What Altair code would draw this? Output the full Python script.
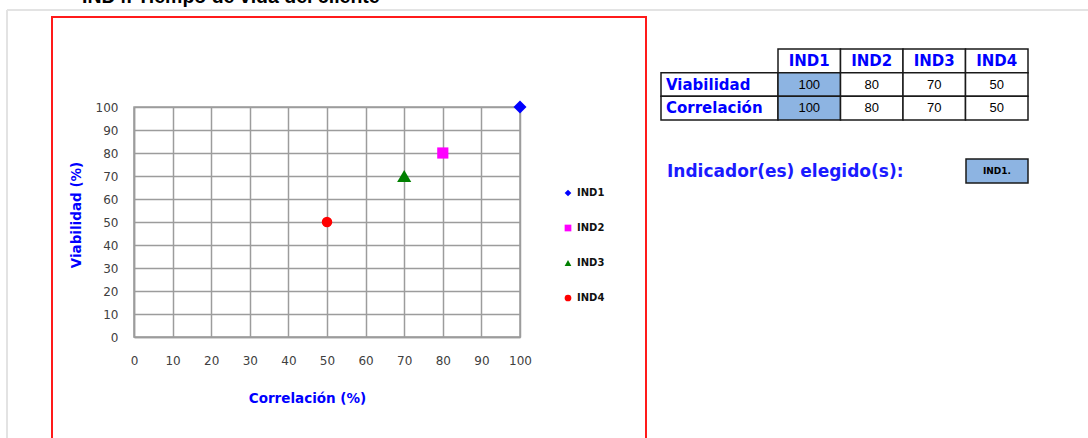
import altair as alt
import pandas as pd

# ---- data -------------------------------------------------------------
indicators = ["IND1", "IND2", "IND3", "IND4"]
viabilidad = [100, 80, 70, 50]
correlacion = [100, 80, 70, 50]
marker_colors = ["#0000ff", "#ff00ff", "#008000", "#ff0000"]
marker_shapes = ["diamond", "square", "triangle-up", "circle"]
marker_sizes = [170, 125, 200, 110]
row_labels = ["Viabilidad", "Correlación"]
selected = "IND1."
axis_ticks = list(range(0, 101, 10))
page_title = "IND4.  Tiempo de vida del cliente"
prompt_text = "Indicador(es) elegido(s):"

# ---- layout (pixels, relative to the plot area's top-left corner) -----
W, H = 386, 230
LEFT, TOP = 134, 107
PAD = {"left": LEFT, "top": TOP, "right": 1088 - LEFT - W, "bottom": 438 - TOP - H}
TX0, TX1, TX2 = 527, 644, 894      # table: label column, value columns
TY0, TY1 = -58, 13                  # table: top and bottom
ROW_KEYS = ["hdr"] + row_labels
GRID = "#9c9c9c"
BLUE = "#0000ff"
CELL_BLUE = "#8db4e2"

one = pd.DataFrame({"k": [0]})

# ---- scatter ----------------------------------------------------------
points = pd.DataFrame({"ind": indicators, "corr": correlacion, "viab": viabilidad})
pct = alt.Scale(domain=[0, 100], nice=False)

axis_common = dict(
    values=axis_ticks, grid=True, gridColor=GRID, gridWidth=1.5,
    domainColor=GRID, domainWidth=1.5, ticks=False, tickSize=0,
    labelFont="DejaVu Sans", labelFontSize=12, labelColor="#404040",
    labelFlush=False, labelOverlap=False,
    titleFont="DejaVu Sans", titleFontSize=13.5, titleFontWeight="bold",
    titleColor=BLUE, titleAlign="center", titleBaseline="middle",
)

legend = alt.Legend(
    title=None, orient="none", legendX=429, legendY=81, padding=0,
    labelFont="DejaVu Sans", labelFontSize=10, labelFontWeight="bold",
    labelColor="#111111", symbolSize=45, rowPadding=25, labelOffset=4,
)

# base layer: axes, grid and legend (small symbols, covered by the markers below)
scatter_base = alt.Chart(points).mark_point(filled=True, opacity=1, size=45).encode(
    x=alt.X("corr:Q", scale=pct,
            axis=alt.Axis(title="Correlación (%)", labelPadding=23,
                          labelBaseline="middle", titleX=173, titleY=61,
                          **axis_common)),
    y=alt.Y("viab:Q", scale=pct,
            axis=alt.Axis(title="Viabilidad (%)", labelPadding=16,
                          titleAngle=270, titleX=-58, titleY=107.5,
                          **axis_common)),
    color=alt.Color("ind:N", scale=alt.Scale(domain=indicators, range=marker_colors),
                    legend=legend),
    shape=alt.Shape("ind:N", scale=alt.Scale(domain=indicators, range=marker_shapes),
                    legend=legend),
)

# full-size markers, one layer per indicator
markers = [
    alt.Chart(points).transform_filter(alt.datum.ind == ind).mark_point(
        filled=True, opacity=1, shape=marker_shapes[i],
        color=marker_colors[i], size=marker_sizes[i],
    ).encode(
        x=alt.X("corr:Q", scale=pct, axis=None),
        y=alt.Y("viab:Q", scale=pct, axis=None),
    )
    for i, ind in enumerate(indicators)
]

# ---- table ------------------------------------------------------------
sel_key = selected.rstrip(".")
cells = []
for i, ind in enumerate(indicators):
    fill = CELL_BLUE if ind == sel_key else "#ffffff"
    cells.append({"row": "hdr", "ind": ind, "txt": ind, "fill": "#ffffff"})
    cells.append({"row": row_labels[0], "ind": ind, "txt": str(viabilidad[i]), "fill": fill})
    cells.append({"row": row_labels[1], "ind": ind, "txt": str(correlacion[i]), "fill": fill})
cells = pd.DataFrame(cells)
labels_df = pd.DataFrame({"row": row_labels})

band_x = alt.X("ind:N", axis=None,
               scale=alt.Scale(type="band", domain=indicators, range=[TX1, TX2],
                               paddingInner=0, paddingOuter=0))
band_y = alt.Y("row:N", axis=None,
               scale=alt.Scale(type="band", domain=ROW_KEYS, range=[TY0, TY1],
                               paddingInner=0, paddingOuter=0))
point_x = alt.X("ind:N", axis=None,
                scale=alt.Scale(type="point", domain=indicators, range=[TX1, TX2], padding=0.5))
point_y = alt.Y("row:N", axis=None,
                scale=alt.Scale(type="point", domain=ROW_KEYS, range=[TY0, TY1], padding=0.5))

value_cells = alt.Chart(cells).mark_rect(stroke="#1a1a1a", strokeWidth=1.5).encode(
    x=band_x, y=band_y, fill=alt.Fill("fill:N", scale=None))

label_cells = alt.Chart(labels_df).mark_rect(
    stroke="#1a1a1a", strokeWidth=1.5, fill="#ffffff").encode(
    x=alt.value(TX0), x2=alt.value(TX1), y=band_y)

header_text = alt.Chart(cells).transform_filter(alt.datum.row == "hdr").mark_text(
    font="DejaVu Sans", fontSize=15, fontWeight="bold", color=BLUE, baseline="middle"
).encode(x=point_x, y=point_y, text="txt:N")

value_text = alt.Chart(cells).transform_filter(alt.datum.row != "hdr").mark_text(
    font="Liberation Sans", fontSize=13, color="#000000", baseline="middle"
).encode(x=point_x, y=point_y, text="txt:N")

label_text = alt.Chart(labels_df).mark_text(
    font="DejaVu Sans", fontSize=15, fontWeight="bold", color=BLUE,
    align="left", baseline="middle"
).encode(x=alt.value(TX0 + 5), y=point_y, text="row:N")

# ---- selection prompt and box ------------------------------------------
prompt = alt.Chart(pd.DataFrame({"t": [prompt_text]})).mark_text(
    font="DejaVu Sans", fontSize=17, fontWeight="bold", color="#1a1aff",
    align="left", baseline="middle"
).encode(x=alt.value(533), y=alt.value(65), text="t:N")

sel_box = alt.Chart(one).mark_rect(fill=CELL_BLUE, stroke="#1a1a1a", strokeWidth=1.5).encode(
    x=alt.value(832), x2=alt.value(894), y=alt.value(52), y2=alt.value(76))

sel_text = alt.Chart(pd.DataFrame({"t": [selected]})).mark_text(
    font="DejaVu Sans", fontSize=9, fontWeight="bold", color="#000000",
    align="center", baseline="middle"
).encode(x=alt.value(863), y=alt.value(64), text="t:N")

# ---- sheet frame, chart border, heading ---------------------------------
frame_top = alt.Chart(one).mark_rule(color="#e3e3e3", strokeWidth=2).encode(
    x=alt.value(-127), x2=alt.value(960), y=alt.value(-97))
frame_left = alt.Chart(one).mark_rule(color="#e3e3e3", strokeWidth=2).encode(
    x=alt.value(-127), y=alt.value(-97), y2=alt.value(345))
border = alt.Chart(one).mark_rect(fill="#ffffff", fillOpacity=0, stroke="#ff1a1a",
                                  strokeWidth=2).encode(
    x=alt.value(-82), x2=alt.value(512), y=alt.value(-90), y2=alt.value(350))
heading = alt.Chart(pd.DataFrame({"t": [page_title]})).mark_text(
    font="Liberation Sans", fontSize=19.5, fontWeight="bold", color="#000000",
    align="left", baseline="alphabetic"
).encode(x=alt.value(-52), y=alt.value(-104.5), text="t:N")

chart = alt.layer(
    frame_top, frame_left, border, heading,
    label_cells, value_cells, header_text, value_text, label_text,
    prompt, sel_box, sel_text,
    scatter_base, *markers,
).resolve_scale(
    x="independent", y="independent"
).properties(
    width=W, height=H, padding=PAD,
    autosize=alt.AutoSizeParams(type="none"),
    background="#ffffff",
).configure_view(stroke=GRID, strokeWidth=1.5)

chart.save("out.html", embed_options={"renderer": "svg", "actions": False})
